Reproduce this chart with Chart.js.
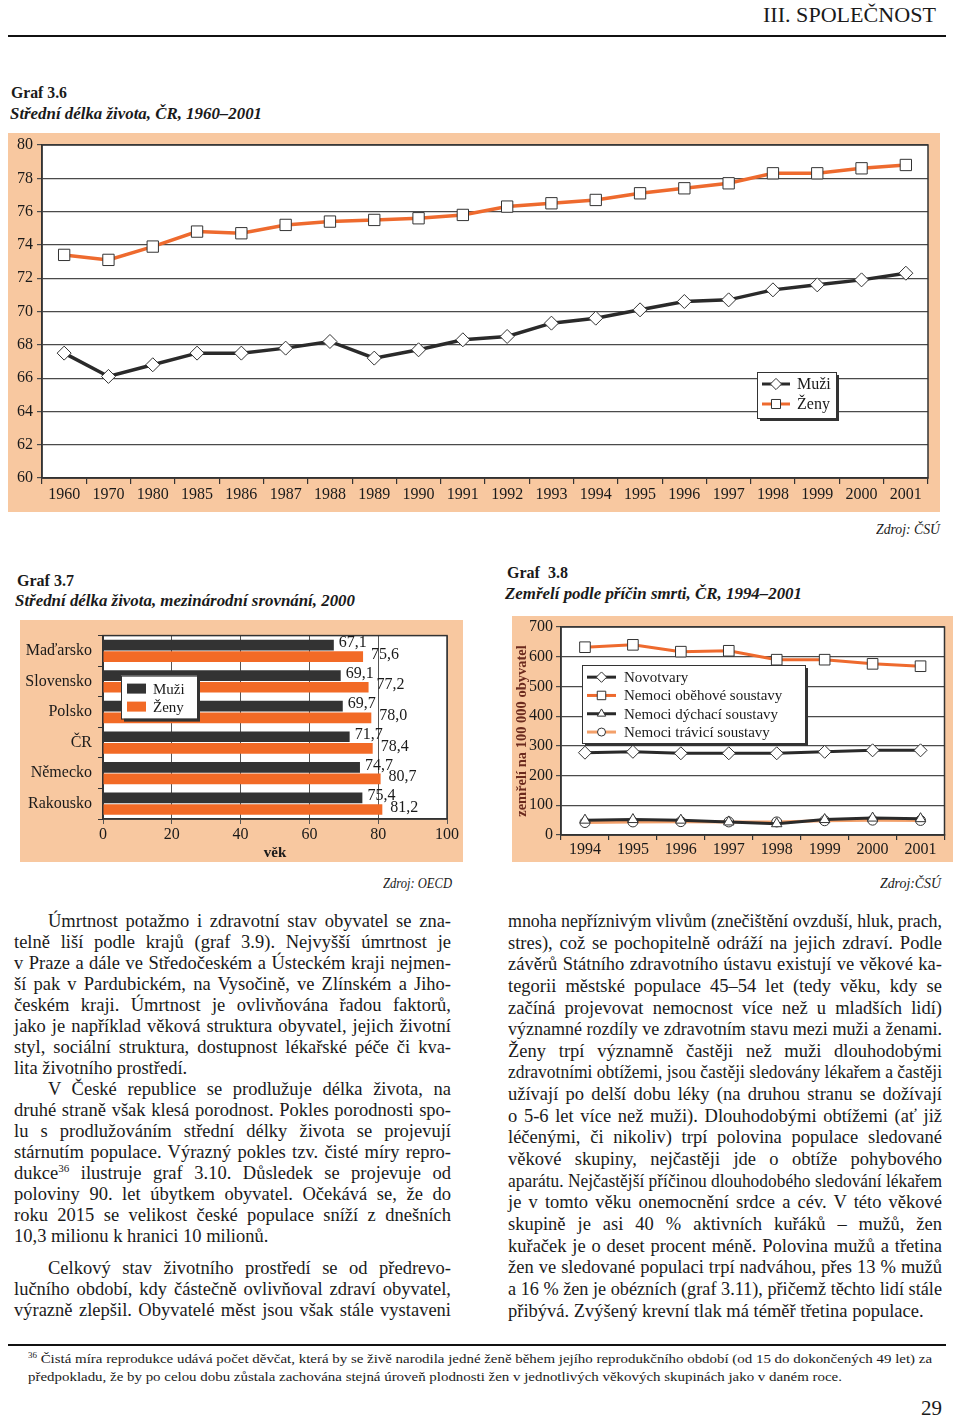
<!DOCTYPE html>
<html lang="cs">
<head>
<meta charset="UTF-8" />
<title>III. Společnost – grafy 3.6 až 3.8</title>
<script src="https://cdn.jsdelivr.net/npm/chart.js"></script>
<style>
	html, body { margin: 0; padding: 0; background: #fff; }
	body {
		width: 960px; height: 1417px; position: relative; overflow: hidden;
		font-family: 'Liberation Serif', 'Times New Roman', serif; color: #1a1a1a;
	}
	.abs { position: absolute; white-space: nowrap; transform-origin: 0 50%; }
	.rule { position: absolute; background: #111; }
	.box { position: absolute; background: #f8c8a0; }
	.graf { font-weight: bold; font-size: 16px; line-height: 20px; }
	.titul { font-weight: bold; font-style: italic; font-size: 17px; line-height: 20px; }
	.zdroj { font-style: italic; font-size: 14px; line-height: 18px; }
	.col { position: absolute; font-size: 18.5px; }
	.col div { white-space: nowrap; height: 21px; line-height: 21px; }
	.col.r div { height: 21.65px; line-height: 21.65px; }
	.col span { display: inline-block; transform-origin: 0 50%; }
	.ind { padding-left: 34px; }
	.gap { margin-top: 11px; }
	.fn { font-size: 13px; line-height: 18px; }
	sup { font-size: 60%; line-height: 0; vertical-align: 0.6em; }
</style>
</head>
<body>
	<!-- záhlaví -->
	<div class="abs" data-fit="173" style="left:763px; top:3px; font-size:20px; line-height:24px;">III. SPOLEČNOST</div>
	<div class="rule" style="left:8px; top:35px; width:938px; height:2px;"></div>

	<!-- Graf 3.6 -->
	<div class="abs graf" data-fit="56" style="left:11px; top:83px;">Graf 3.6</div>
	<div class="abs titul" data-fit="252" style="left:10px; top:104px;">Střední délka života, ČR, 1960–2001</div>
	<div class="box" style="left:8px; top:133px; width:932px; height:379px;"><canvas id="g36"></canvas></div>
	<div class="abs zdroj" data-fit="64" style="left:876px; top:521px;">Zdroj: ČSÚ</div>

	<!-- Graf 3.7 -->
	<div class="abs graf" data-fit="57" style="left:17px; top:571px;">Graf 3.7</div>
	<div class="abs titul" data-fit="340" style="left:15px; top:591px;">Střední délka života, mezinárodní srovnání, 2000</div>
	<div class="box" style="left:20px; top:620px; width:443px; height:242px;"><canvas id="g37"></canvas></div>
	<div class="abs zdroj" data-fit="69" style="left:383px; top:875px;">Zdroj: OECD</div>

	<!-- Graf 3.8 -->
	<div class="abs graf" data-fit="61" style="left:507px; top:563px;">Graf&nbsp; 3.8</div>
	<div class="abs titul" data-fit="297" style="left:505px; top:584px;">Zemřelí podle příčin smrti, ČR, 1994–2001</div>
	<div class="box" style="left:512px; top:616px; width:441px; height:246px;"><canvas id="g38"></canvas></div>
	<div class="abs zdroj" data-fit="61" style="left:880px; top:875px;">Zdroj:ČSÚ</div>

	<!-- text, levý sloupec -->
	<div class="col" id="colL" style="left:14px; top:911px; width:437px;">
		<div class="ind"><span>Úmrtnost potažmo i zdravotní stav obyvatel se zna-</span></div>
		<div><span>telně liší podle krajů (graf 3.9). Nejvyšší úmrtnost je</span></div>
		<div><span>v Praze a dále ve Středočeském a Ústeckém kraji nejmen-</span></div>
		<div><span>ší pak v Pardubickém, na Vysočině, ve Zlínském a Jiho-</span></div>
		<div><span>českém kraji. Úmrtnost je ovlivňována řadou faktorů,</span></div>
		<div><span>jako je například věková struktura obyvatel, jejich životní</span></div>
		<div><span>styl, sociální struktura, dostupnost lékařské péče či kva-</span></div>
		<div class="end"><span>lita životního prostředí.</span></div>
		<div class="ind"><span>V České republice se prodlužuje délka života, na</span></div>
		<div><span>druhé straně však klesá porodnost. Pokles porodnosti spo-</span></div>
		<div><span>lu s prodlužováním střední délky života se projevují</span></div>
		<div><span>stárnutím populace. Výrazný pokles tzv. čisté míry repro-</span></div>
		<div><span>dukce<sup>36</sup> ilustruje graf 3.10. Důsledek se projevuje od</span></div>
		<div><span>poloviny 90. let úbytkem obyvatel. Očekává se, že do</span></div>
		<div><span>roku 2015 se velikost české populace sníží z dnešních</span></div>
		<div class="end"><span>10,3 milionu k hranici 10 milionů.</span></div>
		<div class="ind gap"><span>Celkový stav životního prostředí se od předrevo-</span></div>
		<div><span>lučního období, kdy částečně ovlivňoval zdraví obyvatel,</span></div>
		<div><span>výrazně zlepšil. Obyvatelé měst jsou však stále vystaveni</span></div>
	</div>

	<!-- text, pravý sloupec -->
	<div class="col r" id="colR" style="left:508px; top:911px; width:434px;">
		<div><span>mnoha nepříznivým vlivům (znečištění ovzduší, hluk, prach,</span></div>
		<div><span>stres), což se pochopitelně odráží na jejich zdraví. Podle</span></div>
		<div><span>závěrů Státního zdravotního ústavu existují ve věkové ka-</span></div>
		<div><span>tegorii městské populace 45–54 let (tedy věku, kdy se</span></div>
		<div><span>začíná projevovat nemocnost více než u mladších lidí)</span></div>
		<div><span>významné rozdíly ve zdravotním stavu mezi muži a ženami.</span></div>
		<div><span>Ženy trpí významně častěji než muži dlouhodobými</span></div>
		<div><span>zdravotními obtížemi, jsou častěji sledovány lékařem a častěji</span></div>
		<div><span>užívají po delší dobu léky (na druhou stranu se dožívají</span></div>
		<div><span>o 5-6 let více než muži). Dlouhodobými obtížemi (ať již</span></div>
		<div><span>léčenými, či nikoliv) trpí polovina populace sledované</span></div>
		<div><span>věkové skupiny, nejčastěji jde o obtíže pohybového</span></div>
		<div><span>aparátu. Nejčastější příčinou dlouhodobého sledování lékařem</span></div>
		<div><span>je v tomto věku onemocnění srdce a cév. V této věkové</span></div>
		<div><span>skupině je asi 40 % aktivních kuřáků – mužů, žen</span></div>
		<div><span>kuřaček je o deset procent méně. Polovina mužů a třetina</span></div>
		<div><span>žen ve sledované populaci trpí nadváhou, přes 13 % mužů</span></div>
		<div><span>a 16 % žen je obézních (graf 3.11), přičemž těchto lidí stále</span></div>
		<div class="end"><span>přibývá. Zvýšený krevní tlak má téměř třetina populace.</span></div>
	</div>

	<!-- poznámka pod čarou -->
	<div class="rule" style="left:8px; top:1344px; width:938px; height:2px;"></div>
	<div class="abs fn" id="fn1" style="left:28px; top:1350px;"><sup>36</sup> Čistá míra reprodukce udává počet děvčat, která by se živě narodila jedné ženě během jejího reprodukčního období (od 15 do dokončených 49 let) za</div>
	<div class="abs fn" id="fn2" style="left:28px; top:1368px;">předpokladu, že by po celou dobu zůstala zachována stejná úroveň plodnosti žen v jednotlivých věkových skupinách jako v daném roce.</div>
	<div class="abs" style="left:921px; top:1397px; font-size:21px; line-height:22px;">29</div>

<script>
	// Graf 3.6
	const roky36 = ['1960', '1970', '1980', '1985', '1986', '1987', '1988', '1989', '1990', '1991',
		'1992', '1993', '1994', '1995', '1996', '1997', '1998', '1999', '2000', '2001'];
	const muzi36 = [67.5, 66.1, 66.8, 67.5, 67.5, 67.8, 68.2, 67.2, 67.7, 68.3,
		68.5, 69.3, 69.6, 70.1, 70.6, 70.7, 71.3, 71.6, 71.9, 72.3];
	const zeny36 = [73.4, 73.1, 73.9, 74.8, 74.7, 75.2, 75.4, 75.5, 75.6, 75.8,
		76.3, 76.5, 76.7, 77.1, 77.4, 77.7, 78.3, 78.3, 78.6, 78.8];

	// Graf 3.7
	const zeme37 = ['Maďarsko', 'Slovensko', 'Polsko', 'ČR', 'Německo', 'Rakousko'];
	const muzi37 = [67.1, 69.1, 69.7, 71.7, 74.7, 75.4];
	const zeny37 = [75.6, 77.2, 78.0, 78.4, 80.7, 81.2];

	// Graf 3.8
	const roky38 = ['1994', '1995', '1996', '1997', '1998', '1999', '2000', '2001'];
	const novotvary38 = [277, 280, 275, 275, 275, 280, 285, 285];
	const obehove38 = [632, 640, 617, 620, 590, 590, 576, 568];
	const dychaci38 = [50, 52, 50, 44, 38, 52, 57, 55];
	const travici38 = [42, 44, 45, 44, 44, 48, 50, 49];

	const TMAVA = '#2a2a2a';
	const ORANZ = '#ee6a2e';
	const SVETLE = '#f3a06a';
	const MRIZKA = '#4a4a4a';
	const PISMO = "'Liberation Serif', 'Times New Roman', serif";

	Chart.defaults.font.family = PISMO;
	Chart.defaults.color = '#1a1a1a';

	// bílé pole grafu s rámečkem
	const bilePole = {
		id: 'bilePole',
		beforeDraw(chart) {
			const { ctx, chartArea: a } = chart;
			ctx.save();
			ctx.fillStyle = '#fff';
			ctx.fillRect(a.left, a.top, a.right - a.left, a.bottom - a.top);
			ctx.restore();
		},
		beforeDatasetsDraw(chart) {
			const { ctx, chartArea: a } = chart;
			ctx.save();
			ctx.strokeStyle = '#333';
			ctx.lineWidth = 1.5;
			ctx.strokeRect(a.left, a.top, a.right - a.left, a.bottom - a.top);
			ctx.restore();
		}
	};

	function znacka(ctx, styl, x, y, r) {
		ctx.beginPath();
		if (styl === 'rectRot') {
			ctx.moveTo(x, y - r); ctx.lineTo(x + r, y); ctx.lineTo(x, y + r); ctx.lineTo(x - r, y); ctx.closePath();
		} else if (styl === 'rect') {
			const s = r * Math.SQRT1_2;
			ctx.rect(x - s, y - s, 2 * s, 2 * s);
		} else if (styl === 'triangle') {
			ctx.moveTo(x, y - r); ctx.lineTo(x + r * 0.87, y + r * 0.5); ctx.lineTo(x - r * 0.87, y + r * 0.5); ctx.closePath();
		} else {
			ctx.arc(x, y, r, 0, Math.PI * 2);
		}
		ctx.fill();
		ctx.stroke();
	}

	// legenda v rámečku se stínem, uvnitř pole grafu
	const ramLegenda = {
		id: 'ramLegenda',
		afterDraw(chart, args, o) {
			const { ctx, chartArea: a } = chart;
			const x = a.left + o.x, y = a.top + o.y;
			ctx.save();
			ctx.fillStyle = '#333';
			ctx.fillRect(x + 3, y + 3, o.w, o.h);
			ctx.fillStyle = '#fff';
			ctx.fillRect(x, y, o.w, o.h);
			ctx.strokeStyle = '#333';
			ctx.lineWidth = 1;
			ctx.strokeRect(x + 0.5, y + 0.5, o.w, o.h);
			chart.data.datasets.forEach((ds, i) => {
				const cy = y + o.pad + o.row * i + o.row / 2;
				if (o.typ === 'ctverec') {
					ctx.fillStyle = ds.backgroundColor;
					ctx.fillRect(x + 6, cy - 5, 19, 10);
				} else {
					ctx.strokeStyle = ds.borderColor;
					ctx.lineWidth = 3;
					ctx.beginPath();
					ctx.moveTo(x + 5, cy);
					ctx.lineTo(x + 5 + o.cara, cy);
					ctx.stroke();
					ctx.fillStyle = '#fff';
					ctx.strokeStyle = '#333';
					ctx.lineWidth = 1;
					znacka(ctx, ds.pointStyle, x + 5 + o.cara / 2, cy, ds.pointRadius * 0.8);
				}
				ctx.fillStyle = '#1a1a1a';
				ctx.font = o.velikost + 'px ' + PISMO;
				ctx.textBaseline = 'middle';
				ctx.fillText(ds.label, x + o.text, cy + 1);
			});
			ctx.restore();
		}
	};

	// popisky hodnot u sloupců (desetinná čárka)
	const popiskyHodnot = {
		id: 'popiskyHodnot',
		afterDatasetsDraw(chart) {
			const { ctx } = chart;
			ctx.save();
			ctx.font = '16px ' + PISMO;
			ctx.fillStyle = '#1a1a1a';
			ctx.textBaseline = 'middle';
			chart.data.datasets.forEach((ds, i) => {
				chart.getDatasetMeta(i).data.forEach((bar, j) => {
					ctx.fillText(ds.data[j].toFixed(1).replace('.', ','), bar.x + (i ? 8 : 5), bar.y - 2);
				});
			});
			ctx.restore();
		}
	};

	const osaKat = (vyska, tl, pad) => ({
		offset: true,
		grid: { offset: true, drawOnChartArea: false, tickLength: tl, color: '#333', lineWidth: 1.2 },
		border: { color: '#333', width: 1.5 },
		ticks: { font: { size: 16 }, color: '#1a1a1a', padding: pad, maxRotation: 0, autoSkip: false },
		afterFit: (s) => { s.height = vyska; }
	});

	new Chart(document.getElementById('g36'), {
		type: 'line',
		data: {
			labels: roky36,
			datasets: [
				{ label: 'Muži', data: muzi36, borderColor: TMAVA, borderWidth: 3.5, pointStyle: 'rectRot', pointRadius: 7,
					pointBackgroundColor: '#fff', pointBorderColor: '#333', pointBorderWidth: 1 },
				{ label: 'Ženy', data: zeny36, borderColor: ORANZ, borderWidth: 3.5, pointStyle: 'rect', pointRadius: 8,
					pointBackgroundColor: '#fff', pointBorderColor: '#333', pointBorderWidth: 1 }
			]
		},
		options: {
			responsive: true, maintainAspectRatio: false, animation: false,
			layout: { padding: { top: 9, right: 12, left: 0, bottom: 0 } },
			plugins: {
				legend: { display: false }, tooltip: { enabled: false },
				ramLegenda: { x: 715, y: 227, w: 79, h: 46, pad: 2, row: 20, cara: 28, text: 40, velikost: 16 }
			},
			scales: {
				x: osaKat(34, 6, 1),
				y: {
					min: 60, max: 80,
					ticks: { stepSize: 2, font: { size: 16, lineHeight: 1 }, color: '#1a1a1a', padding: 4 },
					grid: { color: MRIZKA, lineWidth: 1.2, tickLength: 5 },
					border: { color: '#333', width: 1.5 },
					afterFit: (s) => { s.width = 34; }
				}
			}
		},
		plugins: [bilePole, ramLegenda]
	});

	new Chart(document.getElementById('g37'), {
		type: 'bar',
		data: {
			labels: zeme37,
			datasets: [
				{ label: 'Muži', data: muzi37, backgroundColor: '#333', categoryPercentage: 0.76, barPercentage: 0.92 },
				{ label: 'Ženy', data: zeny37, backgroundColor: '#f26a26', categoryPercentage: 0.76, barPercentage: 0.92 }
			]
		},
		options: {
			indexAxis: 'y',
			responsive: true, maintainAspectRatio: false, animation: false,
			layout: { padding: { top: 10, right: 16, left: 0, bottom: 0 } },
			plugins: {
				legend: { display: false }, tooltip: { enabled: false },
				ramLegenda: { typ: 'ctverec', x: 18, y: 40, w: 76, h: 43, pad: 4, row: 18, text: 32, velikost: 15 }
			},
			scales: {
				x: {
					min: 0, max: 100,
					ticks: { stepSize: 20, font: { size: 16 }, color: '#1a1a1a', padding: 1 },
					grid: { color: '#555', lineWidth: 1, tickLength: 5 },
					border: { color: '#333', width: 1.5 },
					title: { display: true, text: 'věk', font: { size: 15, weight: 'bold' }, color: '#1a1a1a', padding: 0 },
					afterFit: (s) => { s.height = 43; }
				},
				y: {
					grid: { offset: true, drawOnChartArea: false, tickLength: 5, color: '#333' },
					border: { color: '#333', width: 1.5 },
					ticks: { font: { size: 16 }, color: '#1a1a1a', padding: 6 },
					afterFit: (s) => { s.width = 83; }
				}
			}
		},
		plugins: [bilePole, popiskyHodnot, ramLegenda]
	});

	const bod = { pointBackgroundColor: '#fff', pointBorderColor: '#333', pointBorderWidth: 1, borderWidth: 3 };
	new Chart(document.getElementById('g38'), {
		type: 'line',
		data: {
			labels: roky38,
			datasets: [
				{ ...bod, label: 'Novotvary', data: novotvary38, borderColor: TMAVA, pointStyle: 'rectRot', pointRadius: 6.5 },
				{ ...bod, label: 'Nemoci oběhové soustavy', data: obehove38, borderColor: ORANZ, pointStyle: 'rect', pointRadius: 7.5 },
				{ ...bod, label: 'Nemoci dýchací soustavy', data: dychaci38, borderColor: TMAVA, pointStyle: 'triangle', pointRadius: 6 },
				{ ...bod, label: 'Nemoci trávicí soustavy', data: travici38, borderColor: SVETLE, pointStyle: 'circle', pointRadius: 5 }
			]
		},
		options: {
			responsive: true, maintainAspectRatio: false, animation: false,
			layout: { padding: { top: 11, right: 8, left: 0, bottom: 0 } },
			plugins: {
				legend: { display: false }, tooltip: { enabled: false },
				ramLegenda: { x: 21, y: 38, w: 223, h: 78, pad: 3, row: 18.3, cara: 29, text: 42, velikost: 15 }
			},
			scales: {
				x: osaKat(27, 5, 0),
				y: {
					min: 0, max: 700,
					ticks: { stepSize: 100, font: { size: 16, lineHeight: 1 }, color: '#1a1a1a', padding: 3 },
					grid: { color: MRIZKA, lineWidth: 1.2, tickLength: 5 },
					border: { color: '#333', width: 1.5 },
					title: { display: true, text: 'zemřelí na 100 000 obyvatel', color: '#6b2a1e',
						font: { size: 14.5, weight: 'bold' }, padding: { top: 2, bottom: 0 } },
					afterFit: (s) => { s.width = 49; }
				}
			}
		},
		plugins: [bilePole, ramLegenda]
	});

	// titulky a záhlaví roztažené na šířku předlohy
	document.querySelectorAll('[data-fit]').forEach((el) => {
		const w = el.getBoundingClientRect().width;
		el.style.transform = 'scaleX(' + (el.dataset.fit / w) + ')';
	});

	// zarovnání řádků do bloku
	function zarovnej(col) {
		const W = col.clientWidth;
		col.querySelectorAll('div').forEach((radek) => {
			const span = radek.querySelector('span');
			const k = W - (radek.classList.contains('ind') ? 34 : 0);
			const w = span.getBoundingClientRect().width;
			const mezery = (span.textContent.match(/ /g) || []).length;
			if (w > k) span.style.transform = 'scaleX(' + (k / w) + ')';
			else if (!radek.classList.contains('end') && mezery) span.style.wordSpacing = ((k - w) / mezery) + 'px';
		});
	}
	zarovnej(document.getElementById('colL'));
	zarovnej(document.getElementById('colR'));

	// poznámka: stejné zúžení pro oba řádky
	const fn1 = document.getElementById('fn1');
	const fn2 = document.getElementById('fn2');
	const zuz = 904 / fn1.getBoundingClientRect().width;
	fn1.style.transform = 'scaleX(' + zuz + ')';
	fn2.style.transform = 'scaleX(' + zuz + ')';
</script>
</body>
</html>
